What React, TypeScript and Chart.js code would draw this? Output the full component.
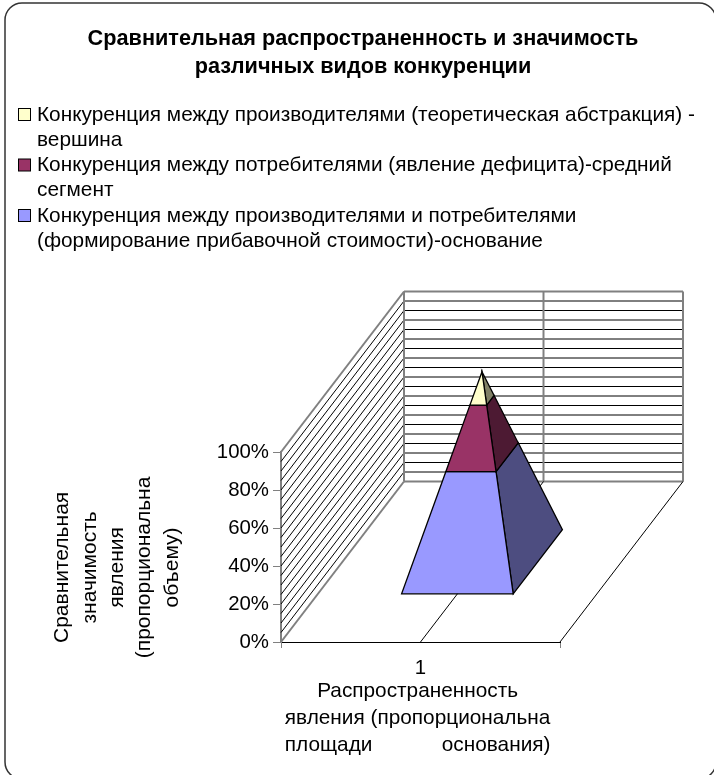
import React, { useEffect, useRef } from "react";
import { Chart, registerables, layouts } from "chart.js";

Chart.register(...registerables);

const categories = ["1"];
const titleLines = [
  "Сравнительная распространенность и значимость",
  "различных видов конкуренции",
];
const legendLines = [
  ["Конкуренция между производителями (теоретическая абстракция) -", "вершина"],
  ["Конкуренция между потребителями (явление дефицита)-средний", "сегмент"],
  ["Конкуренция между производителями и потребителями", "(формирование прибавочной стоимости)-основание"],
];
const seriesNames = ["вершина", "средний сегмент", "основание"];
const apexValues = [15];
const middleValues = [30];
const baseValues = [55];
const frontColors = ["#FFFFCC", "#993366", "#9999FF"];
const sideColors = ["#808066", "#4D1A33", "#4D4D80"];
const yTitleLines = ["Сравнительная", "значимость", "явления", "(пропорциональна", "объему)"];
const xTitleLines = [
  "Распространенность\u00A0",
  "явления (пропорциональна\u00A0",
  "площади" + "\u00A0".repeat(12) + "основания)\u00A0",
];

const FONT = "'Liberation Sans', Arial, sans-serif";
const DEPTH_X = 123;
const DEPTH_Y = 160.5;
const WALL_STEP = 5;
const NEAR = 0.3;
const FAR = 0.7;
const GREY = "#808080";

const scene = {
  id: "scene",
  start(chart: any) {
    const box: any = {
      position: "top",
      weight: 1000,
      fullSize: true,
      options: {},
      left: 0, top: 0, right: 0, bottom: 0, width: 0, height: 0,
      isHorizontal: () => true,
      update(w: number) {
        box.width = w;
        box.height = 452 - 81;
      },
      draw() {
        const c = chart.ctx;
        c.save();
        c.font = `20.8px ${FONT}`;
        c.textBaseline = "middle";
        c.fillStyle = "#000";
        legendLines.forEach((lines, i) => {
          const y0 = box.top + 34 + i * 50.5;
          c.fillStyle = frontColors[i];
          c.strokeStyle = "#000";
          c.lineWidth = 1;
          c.fillRect(18.5, y0 - 6.5, 12, 12);
          c.strokeRect(18.5, y0 - 6.5, 12, 12);
          c.fillStyle = "#000";
          lines.forEach((l, j) => c.fillText(l, 37, y0 + j * 25));
        });
        c.restore();
      },
    };
    layouts.addBox(chart, box);
    const gutter: any = {
      position: "right",
      weight: 0,
      fullSize: false,
      options: {},
      left: 0, top: 0, right: 0, bottom: 0, width: 0, height: 0,
      isHorizontal: () => false,
      update(_w: number, h: number) {
        gutter.width = 154;
        gutter.height = h;
      },
      draw() {},
    };
    layouts.addBox(chart, gutter);
  },
  beforeDraw(chart: any) {
    const c = chart.ctx;
    c.save();
    c.fillStyle = "#fff";
    c.fillRect(0, 0, chart.width, chart.height);
    c.strokeStyle = "#333";
    c.lineWidth = 1.5;
    c.beginPath();
    c.roundRect(5, 3, 711, 776, 17);
    c.stroke();
    c.restore();
  },
  beforeDatasetsDraw(chart: any) {
    const c = chart.ctx;
    const xs = chart.scales.x;
    const ys = chart.scales.y;
    const W = xs.right - xs.left;
    const line = (x1: number, y1: number, x2: number, y2: number, color: string, w: number) => {
      c.strokeStyle = color;
      c.lineWidth = w;
      c.beginPath();
      c.moveTo(x1, y1);
      c.lineTo(x2, y2);
      c.stroke();
    };
    c.save();
    c.lineCap = "butt";
    const mid = xs.getPixelForValue(0);
    for (let v = ys.min; v <= ys.max; v += WALL_STEP) {
      const y = ys.getPixelForValue(v);
      const edge = v === ys.min || v === ys.max;
      line(xs.left, y, xs.left + DEPTH_X, y - DEPTH_Y, edge ? GREY : "#000", edge ? 2 : 1);
      line(xs.left + DEPTH_X, y - DEPTH_Y, xs.right + DEPTH_X, y - DEPTH_Y, edge ? GREY : "#000", edge ? 2 : 1);
    }
    const top = ys.getPixelForValue(ys.max) - DEPTH_Y;
    const bot = ys.getPixelForValue(ys.min) - DEPTH_Y;
    line(xs.left + DEPTH_X, top, xs.left + DEPTH_X, bot, GREY, 2);
    line(xs.right + DEPTH_X, top, xs.right + DEPTH_X, bot, GREY, 2);
    line(mid + DEPTH_X, top, mid + DEPTH_X, bot, GREY, 2);
    const y0 = ys.getPixelForValue(ys.min);
    line(mid, y0, mid + DEPTH_X, y0 - DEPTH_Y, "#000", 1);
    line(xs.right, y0, xs.right + DEPTH_X, y0 - DEPTH_Y, "#000", 1);

    // pyramid, stacked bottom to top from the dataset values
    const project = (u: number, d: number, v: number) => {
      const t = v / ys.max;
      const uu = u + (0.5 - u) * t;
      const dd = d + (0.5 - d) * t;
      return [xs.left + uu * W + dd * DEPTH_X, ys.getPixelForValue(v) - dd * DEPTH_Y];
    };
    const quad = (pts: number[][], fill: string) => {
      c.fillStyle = fill;
      c.strokeStyle = "#000";
      c.lineWidth = 1.3;
      c.lineJoin = "miter";
      c.beginPath();
      pts.forEach((p, i) => (i ? c.lineTo(p[0], p[1]) : c.moveTo(p[0], p[1])));
      c.closePath();
      c.fill();
      c.stroke();
    };
    let base = 0;
    for (let i = chart.data.datasets.length - 1; i >= 0; i--) {
      const val = chart.data.datasets[i].data[0];
      const topV = base + val;
      quad(
        [project(FAR, NEAR, base), project(FAR, FAR, base), project(FAR, FAR, topV), project(FAR, NEAR, topV)],
        sideColors[i]
      );
      quad(
        [project(NEAR, NEAR, base), project(FAR, NEAR, base), project(FAR, NEAR, topV), project(NEAR, NEAR, topV)],
        frontColors[i]
      );
      base = topV;
    }
    c.restore();
  },
};

export default function App() {
  const ref = useRef<HTMLCanvasElement>(null);
  useEffect(() => {
    const chart = new Chart(ref.current!, {
      type: "bar",
      data: {
        labels: categories,
        datasets: [
          { label: seriesNames[0], data: apexValues, backgroundColor: "transparent" },
          { label: seriesNames[1], data: middleValues, backgroundColor: "transparent" },
          { label: seriesNames[2], data: baseValues, backgroundColor: "transparent" },
        ],
      },
      options: {
        animation: false,
        responsive: false,
        layout: { padding: { left: 12, right: 0, top: 0, bottom: 0 } },
        plugins: {
          legend: { display: false },
          tooltip: { enabled: false },
          title: {
            display: true,
            text: titleLines,
            color: "#000",
            font: { family: FONT, size: 21.7, weight: "bold", lineHeight: 28 / 21.7 },
            padding: { top: 25, bottom: 0 },
          },
        },
        scales: {
          x: {
            stacked: true,
            border: { color: "#000", width: 1 },
            grid: { drawOnChartArea: false, tickLength: 6, color: GREY },
            ticks: { color: "#000", font: { family: FONT, size: 20.4 }, padding: 8, maxRotation: 0 },
            title: {
              display: true,
              text: xTitleLines,
              color: "#000",
              font: { family: FONT, size: 20.8, lineHeight: 1.3 },
              padding: { top: 0, bottom: 16 },
            },
            afterFit(axis: any) {
              axis.height = 133;
            },
          },
          y: {
            stacked: true,
            min: 0,
            max: 100,
            border: { color: GREY, width: 2 },
            grid: { drawOnChartArea: false, tickLength: 8, color: GREY },
            ticks: {
              stepSize: 20,
              color: "#000",
              padding: 4,
              font: { family: FONT, size: 20.4 },
              callback: (v: any) => `${v}%`,
            },
            title: {
              display: true,
              text: yTitleLines.map((l) => l + "\u00A0".repeat(7)),
              color: "#000",
              font: { family: FONT, size: 21, lineHeight: 1.3 },
              padding: { top: 37, bottom: 0 },
            },
            afterFit(axis: any) {
              axis.width = 269;
            },
          },
        },
      } as any,
      plugins: [scene as any],
    });
    return () => chart.destroy();
  }, []);
  return (
    <div style={{ position: "absolute", left: 0, top: 0 }}>
      <canvas ref={ref} width={714} height={775} style={{ display: "block" }} />
    </div>
  );
}
